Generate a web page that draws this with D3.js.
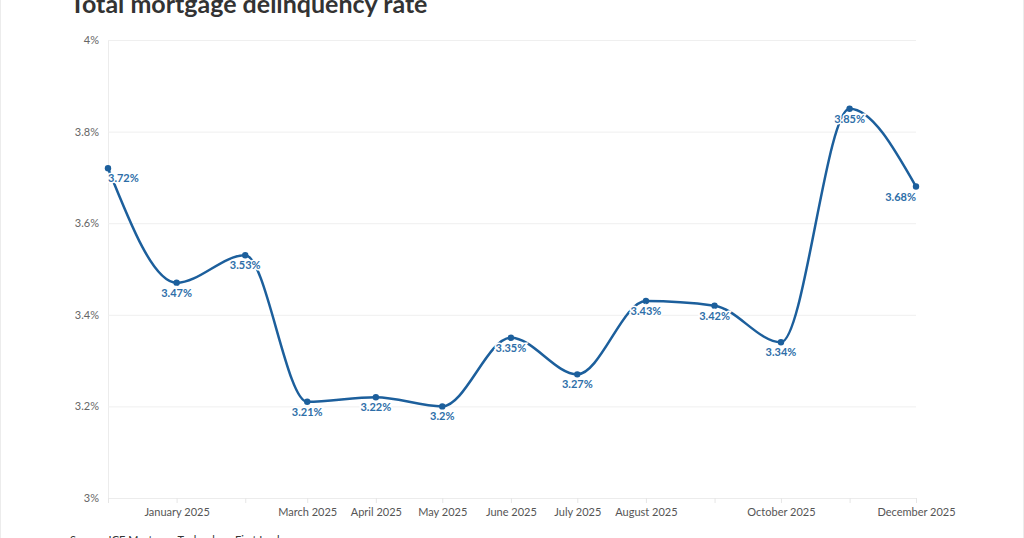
<!DOCTYPE html>
<html>
<head>
<meta charset="utf-8">
<script src="https://cdn.jsdelivr.net/npm/d3@7"></script>
<style>
  html, body { margin: 0; padding: 0; background: #fff; }
  body { width: 1024px; height: 538px; overflow: hidden; }
  svg { font-family: Lato, "Open Sans", sans-serif; }
</style>
</head>
<body>
<svg id="chart" width="1024" height="538"></svg>
<script>
// months (first of month) and delinquency rate, %
var months = ['2024-12', '2025-01', '2025-02', '2025-03', '2025-04', '2025-05', '2025-06',
              '2025-07', '2025-08', '2025-09', '2025-10', '2025-11', '2025-12'];
var rates = [3.72, 3.47, 3.53, 3.21, 3.22, 3.2, 3.35, 3.27, 3.43, 3.42, 3.34, 3.85, 3.68];
var labelMonths = ['2025-01', '2025-03', '2025-04', '2025-05', '2025-06', '2025-07',
                   '2025-08', '2025-10', '2025-12'];
var yTicks = [3, 3.2, 3.4, 3.6, 3.8, 4];

(function () {
  var parse = d3.timeParse('%Y-%m');
  var data = months.map(function (m, i) { return { date: parse(m), value: rates[i] }; });

  var svg = d3.select('#chart');
  var width = 1024, height = 538;
  var plotL = 108, plotR = 916, plotT = 40, plotB = 498;
  var blue = '#1c5f9c';

  var x = d3.scaleTime().domain(d3.extent(data, function (d) { return d.date; })).range([plotL, plotR]);
  var y = d3.scaleLinear().domain([3, 4]).range([plotB, plotT]);

  // faint page border
  svg.append('rect').attr('x', 0.5).attr('y', -2).attr('width', width - 1).attr('height', height + 4)
    .attr('fill', 'none').attr('stroke', '#ececec');

  svg.append('text').attr('x', 70).attr('y', 13)
    .attr('font-size', 25).attr('font-weight', 700).attr('fill', '#333')
    .text('Total mortgage delinquency rate');

  // horizontal grid + y labels
  var yAxis = d3.axisLeft(y).tickValues(yTicks).tickSize(-(plotR - plotL)).tickPadding(9)
    .tickFormat(function (d) { return d3.format('~g')(d) + '%'; });
  var gy = svg.append('g').attr('transform', 'translate(' + plotL + ',0)').call(yAxis);
  gy.select('.domain').attr('stroke', '#ececec');
  gy.selectAll('.tick line').attr('stroke', '#efefef');
  gy.selectAll('.tick text').attr('fill', '#666').attr('font-size', 11).attr('font-family', 'Lato, sans-serif');

  // x axis
  var xAxis = d3.axisBottom(x).tickValues(data.map(function (d) { return d.date; }))
    .tickSize(5).tickPadding(5)
    .tickFormat(function (d) {
      var k = d3.timeFormat('%Y-%m')(d);
      return labelMonths.indexOf(k) >= 0 ? d3.timeFormat('%B %Y')(d) : '';
    });
  var gx = svg.append('g').attr('transform', 'translate(0,' + plotB + ')').call(xAxis);
  gx.select('.domain').attr('stroke', '#ececec');
  gx.selectAll('.tick line').attr('stroke', '#e6e6e6');
  gx.selectAll('.tick text').attr('fill', '#555').attr('font-size', 11).attr('font-family', 'Lato, sans-serif');

  var line = d3.line()
    .x(function (d) { return x(d.date); })
    .y(function (d) { return y(d.value); })
    .curve(d3.curveMonotoneX);

  svg.append('path').datum(data).attr('d', line)
    .attr('fill', 'none').attr('stroke', blue).attr('stroke-width', 2.5);

  svg.selectAll('circle.pt').data(data).enter().append('circle')
    .attr('class', 'pt')
    .attr('cx', function (d) { return x(d.date); })
    .attr('cy', function (d) { return y(d.value); })
    .attr('r', 3.2).attr('fill', blue);

  // value labels with white halo, kept inside plot
  svg.selectAll('text.val').data(data).enter().append('text')
    .attr('class', 'val')
    .attr('x', function (d) { return x(d.date); })
    .attr('y', function (d) { return y(d.value) + 14; })
    .attr('text-anchor', 'middle')
    .attr('font-size', 11).attr('font-weight', 700)
    .attr('fill', '#2d6ea8')
    .attr('stroke', '#fff').attr('stroke-width', 3).attr('paint-order', 'stroke')
    .text(function (d) { return d3.format('~g')(d.value) + '%'; })
    .each(function () {
      var b = this.getBBox();
      var cx = +d3.select(this).attr('x');
      if (b.x < plotL) d3.select(this).attr('x', cx + (plotL - b.x));
      if (b.x + b.width > plotR) d3.select(this).attr('x', cx - (b.x + b.width - plotR));
    });

  svg.append('text').attr('x', 70).attr('y', 544)
    .attr('font-size', 11).attr('fill', '#333')
    .text('Source: ICE Mortgage Technology First Look');
})();
</script>
</body>
</html>
